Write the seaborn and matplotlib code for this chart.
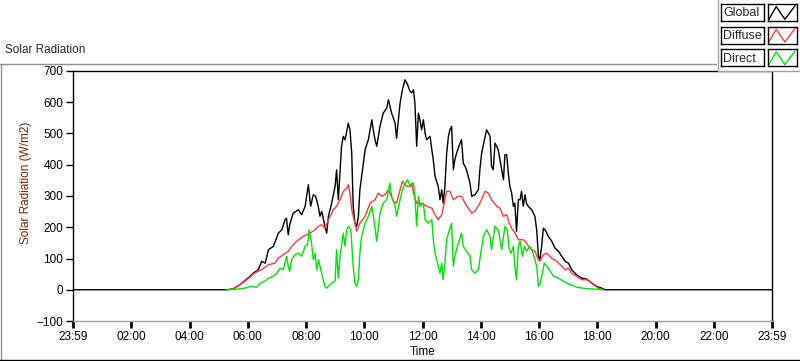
import numpy as np
import pandas as pd
import matplotlib
matplotlib.use('Agg')
import matplotlib.pyplot as plt
from matplotlib.lines import Line2D
from matplotlib.patches import Rectangle
import seaborn as sns

# time in hours since midnight, radiation in W/m2
global_t = [0, 5.30, 5.50, 5.73, 6.08, 6.19, 6.36, 6.48, 6.60, 6.71, 6.88, 7.05, 7.17, 7.28, 7.33,
            7.39, 7.44, 7.56, 7.74, 7.85, 7.97, 8.08, 8.16, 8.25, 8.33, 8.42, 8.48, 8.54, 8.65, 8.71,
            8.77, 8.88, 9.00, 9.05, 9.11, 9.17, 9.22, 9.28, 9.34, 9.40, 9.45, 9.51, 9.57, 9.62, 9.68,
            9.74, 9.80, 9.85, 9.97, 10.03, 10.14, 10.26, 10.31, 10.37, 10.43, 10.54, 10.65, 10.77,
            10.83, 10.94, 11.06, 11.11, 11.23, 11.31, 11.40, 11.49, 11.57, 11.63, 11.69, 11.74, 11.80,
            11.86, 11.91, 11.97, 12.03, 12.09, 12.14, 12.26, 12.32, 12.37, 12.43, 12.54, 12.60, 12.66,
            12.71, 12.77, 12.83, 12.89, 12.94, 13.00, 13.06, 13.11, 13.17, 13.29, 13.34, 13.40, 13.46,
            13.51, 13.63, 13.69, 13.80, 13.92, 13.97, 14.03, 14.15, 14.20, 14.32, 14.37, 14.43, 14.49,
            14.55, 14.60, 14.66, 14.72, 14.78, 14.83, 14.89, 14.95, 15.00, 15.06, 15.12, 15.17, 15.23,
            15.29, 15.35, 15.40, 15.46, 15.52, 15.57, 15.63, 15.75, 15.86, 15.92, 15.98, 16.03, 16.09,
            16.15, 16.21, 16.32, 16.44, 16.55, 16.67, 16.78, 16.90, 17.01, 17.12, 17.29, 17.47, 17.64,
            17.81, 17.98, 18.15, 18.27, 24]
global_v = [0, 0, 3, 16, 43, 53, 64, 91, 85, 128, 139, 181, 192, 224, 229,
            176, 208, 245, 256, 240, 267, 336, 267, 304, 299, 267, 235, 251, 203, 181,
            235, 277, 331, 384, 288, 384, 459, 491, 480, 507, 533, 512, 437, 267, 213,
            203, 235, 320, 405, 448, 480, 544, 512, 480, 459, 523, 565, 581,
            608, 565, 533, 485, 597, 640, 672, 656, 635, 630, 640, 597, 459,
            565, 544, 512, 544, 501, 480, 491, 448, 416, 363, 331, 288, 320,
            277, 331, 437, 491, 512, 523, 384, 416, 437, 469, 480, 405, 395,
            384, 341, 299, 304, 320, 384, 437, 491, 512, 491, 395, 384, 469,
            459, 448, 416, 384, 352, 432, 432, 370, 331, 309, 267, 277, 187,
            288, 288, 315, 267, 304, 277, 267, 256, 235, 192, 107, 96, 139,
            197, 192, 171, 155, 133, 123, 107, 91, 85, 64, 48, 37, 34,
            21, 11, 5, 0, 0]

diffuse_t = [5.30, 5.50, 5.73, 6.08, 6.19, 6.36, 6.48, 6.71, 6.94, 7.05, 7.22, 7.39, 7.51, 7.68, 7.91,
             8.14, 8.31, 8.42, 8.54, 8.65, 8.77, 8.94, 9.05, 9.17, 9.28, 9.40, 9.45, 9.51, 9.57, 9.68,
             9.74, 9.85, 10.03, 10.20, 10.37, 10.48, 10.60, 10.71, 10.83, 11.00, 11.11, 11.23, 11.31,
             11.46, 11.57, 11.63, 11.69, 11.80, 11.97, 12.14, 12.32, 12.43, 12.54, 12.66, 12.77, 12.83,
             12.94, 13.06, 13.23, 13.34, 13.46, 13.57, 13.69, 13.80, 13.97, 14.15, 14.26, 14.37, 14.55,
             14.66, 14.78, 14.89, 14.98, 15.06, 15.18, 15.29, 15.46, 15.57, 15.69, 15.86, 15.98, 16.03,
             16.15, 16.26, 16.44, 16.61, 16.78, 16.90, 17.01, 17.12, 17.29, 17.47, 17.64, 17.75, 17.87,
             18.04, 18.21]
diffuse_v = [0, 3, 16, 40, 50, 60, 64, 80, 85, 101, 112, 123, 139, 155, 171,
             181, 192, 203, 208, 197, 224, 256, 267, 288, 315, 325, 336, 309, 256, 213,
             187, 213, 235, 277, 288, 309, 299, 304, 320, 283, 277, 320, 347,
             331, 330, 341, 309, 277, 277, 267, 261, 240, 224, 240, 288, 315,
             315, 288, 299, 299, 277, 261, 245, 251, 277, 315, 309, 288, 267,
             261, 235, 240, 213, 197, 181, 160, 160, 149, 133, 123, 96, 91,
             112, 117, 101, 91, 75, 64, 69, 53, 43, 32, 32, 27, 16,
             5, 0]

direct_t = [5.27, 5.55, 5.90, 6.13, 6.31, 6.42, 6.59, 6.71, 6.88, 7.00, 7.11, 7.22, 7.34, 7.39, 7.44,
            7.51, 7.62, 7.74, 7.85, 7.97, 8.05, 8.11, 8.19, 8.25, 8.31, 8.37, 8.43, 8.48, 8.59, 8.65,
            8.71, 8.88, 9.00, 9.05, 9.11, 9.17, 9.28, 9.34, 9.40, 9.45, 9.54, 9.62, 9.68, 9.74, 9.80,
            9.85, 9.91, 10.03, 10.14, 10.26, 10.35, 10.43, 10.54, 10.65, 10.77, 10.88, 10.94, 11.06,
            11.11, 11.23, 11.31, 11.40, 11.49, 11.57, 11.63, 11.69, 11.74, 11.80, 11.86, 11.91, 12.03,
            12.09, 12.20, 12.32, 12.37, 12.43, 12.54, 12.60, 12.66, 12.71, 12.77, 12.83, 12.89, 12.97,
            13.00, 13.06, 13.11, 13.23, 13.34, 13.40, 13.51, 13.63, 13.69, 13.80, 13.92, 14.00, 14.09,
            14.20, 14.32, 14.37, 14.49, 14.60, 14.72, 14.83, 14.91, 14.97, 15.04, 15.12, 15.17, 15.23,
            15.29, 15.35, 15.43, 15.50, 15.57, 15.69, 15.80, 15.92, 15.98, 16.03, 16.12, 16.18, 16.32,
            16.50, 16.67, 16.84, 17.07, 17.29, 17.58, 17.92, 18.21]
direct_v = [0, 1, 5, 11, 8, 21, 27, 37, 43, 53, 69, 64, 107, 75, 59,
            96, 112, 117, 107, 139, 144, 192, 149, 96, 117, 64, 96, 75, 32, 11,
            5, 21, 27, 128, 37, 107, 181, 139, 192, 203, 192, 75, 21, 11, 32,
            117, 171, 213, 235, 267, 213, 155, 245, 277, 288, 341, 299, 267,
            235, 288, 320, 341, 352, 331, 341, 341, 299, 203, 299, 267, 277,
            224, 213, 224, 160, 117, 75, 53, 85, 32, 85, 160, 181, 203,
            213, 75, 107, 149, 181, 139, 123, 107, 64, 53, 64, 117, 171,
            192, 171, 128, 203, 192, 128, 203, 192, 133, 117, 139, 75, 32,
            139, 155, 107, 139, 123, 139, 117, 75, 11, 16, 53, 85, 69,
            43, 37, 27, 16, 8, 4, 2, 0]

series_names = ['Global', 'Diffuse', 'Direct']
series_colors = ['black', '#ff3b3b', '#00e600']
tick_hours = list(range(0, 25, 2))
tick_labels = ['23:59', '02:00', '04:00', '06:00', '08:00', '10:00', '12:00',
               '14:00', '16:00', '18:00', '20:00', '22:00', '23:59']

df = pd.concat([
    pd.DataFrame({'time': global_t, 'value': global_v, 'series': 'Global'}),
    pd.DataFrame({'time': diffuse_t, 'value': diffuse_v, 'series': 'Diffuse'}),
    pd.DataFrame({'time': direct_t, 'value': direct_v, 'series': 'Direct'}),
], ignore_index=True)

sns.set_style('white')
plt.rcParams['font.family'] = ['Liberation Sans', 'DejaVu Sans']
plt.rcParams['font.size'] = 8.5

fig = plt.figure(figsize=(8, 3.61), dpi=100)
fig.patch.set_facecolor('white')
ax = fig.add_axes([73 / 800, 1 - 321 / 361, 699 / 800, 250 / 361])

sns.lineplot(data=df, x='time', y='value', hue='series', hue_order=series_names,
             palette=dict(zip(series_names, series_colors)), estimator=None, sort=False,
             linewidth=1.0, legend=False, ax=ax)

ax.set_xlim(0, 24)
ax.set_ylim(-100, 700)
ax.set_xticks(tick_hours)
ax.set_xticklabels(tick_labels)
ax.set_xticks(np.arange(0, 24.01, 0.25), minor=True)
ax.set_yticks(range(-100, 701, 100))
ax.tick_params(axis='both', which='major', direction='out', length=5, width=1,
               color='black', labelcolor='black', labelsize=8.5, pad=2)
ax.tick_params(axis='x', which='major', width=2, length=5)
ax.tick_params(axis='x', which='minor', direction='out', length=3.5, width=1, color='black')
ax.tick_params(left=True, bottom=True)
for s in ['top', 'left', 'right']:
    ax.spines[s].set_color('black')
    ax.spines[s].set_linewidth(1)
ax.spines['bottom'].set_color('#a0a0a0')
ax.spines['bottom'].set_linewidth(1)

ax.set_xlabel('Time', fontsize=8.5, color='black')
ax.set_ylabel('Solar Radiation (W/m2)', fontsize=8.5, color='#802000')
ax.yaxis.set_label_coords(-0.059, 0.552)
ax.xaxis.set_label_coords(0.5, -0.125)
ax.xaxis.label.set_va('center')
ax.grid(False)

# outer frame of the graph panel
fig.add_artist(Line2D([0, 717 / 800], [1 - 63.5 / 361, 1 - 63.5 / 361], color='#909090', lw=1,
                      transform=fig.transFigure))
fig.add_artist(Line2D([0.5 / 800, 0.5 / 800], [1 - 63.5 / 361, 1 - 359.5 / 361], color='#909090', lw=1,
                      transform=fig.transFigure))
fig.add_artist(Line2D([0, 1], [1 - 359.5 / 361, 1 - 359.5 / 361], color='black', lw=1,
                      transform=fig.transFigure))
fig.text(5 / 800, 1 - 50 / 361, 'Solar Radiation', fontsize=8.5, va='center', ha='left')

# legend panel
fig.add_artist(Rectangle((717 / 800, 1 - 71 / 361), 83 / 800, 71 / 361, transform=fig.transFigure,
                         facecolor='white', edgecolor='none', zorder=5))
fig.add_artist(Line2D([717.5 / 800, 717.5 / 800], [1, 1 - 71 / 361], color='#a0a0a0', lw=1,
                      transform=fig.transFigure, zorder=6))
fig.add_artist(Line2D([717.5 / 800, 1], [1 - 71 / 361, 1 - 71 / 361], color='#a0a0a0', lw=1,
                      transform=fig.transFigure, zorder=6))

row_tops = [4, 26.7, 49.3]
for name, col, top in zip(series_names, series_colors, row_tops):
    lab = fig.add_axes([721 / 800, 1 - (top + 17) / 361, 43 / 800, 17 / 361], zorder=10)
    lab.set_xticks([])
    lab.set_yticks([])
    lab.set_facecolor('white')
    for sp in lab.spines.values():
        sp.set_color('black')
        sp.set_linewidth(1)
    lab.text(0.05, 0.45, name, fontsize=9, va='center', ha='left', transform=lab.transAxes)

    sw = fig.add_axes([767.5 / 800, 1 - (top + 17) / 361, 29 / 800, 17 / 361], zorder=10)
    sw.plot([0.05, 0.3, 0.6, 0.95], [0.1, 0.85, 0.1, 0.9], color=col, lw=1)
    sw.set_xlim(0, 1)
    sw.set_ylim(0, 1)
    sw.set_xticks([])
    sw.set_yticks([])
    sw.set_facecolor('white')
    for sp in sw.spines.values():
        sp.set_color('black')
        sp.set_linewidth(1)

fig.savefig('out.png', dpi=100, facecolor='white')
